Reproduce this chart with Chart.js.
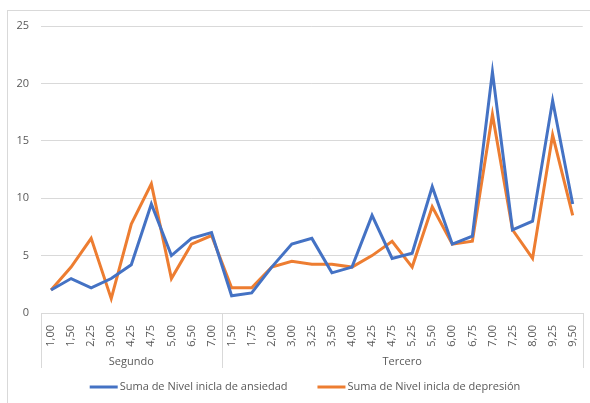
<!DOCTYPE html>
<html>
<head>
<meta charset="utf-8">
<script src="https://cdn.jsdelivr.net/npm/chart.js@4.4.1/dist/chart.umd.min.js"></script>
<style>
  html, body { margin: 0; padding: 0; background: #fff; }
  #wrap { position: relative; width: 590px; height: 403px; }
  #frame { position: absolute; left: 7px; top: 10px; width: 600px; height: 420px; border: 1px solid #d9d9d9; box-sizing: border-box; }
</style>
</head>
<body>
<div id="wrap">
  <div id="frame"></div>
  <canvas id="nivelChart" width="590" height="403"></canvas>
</div>
<script>
// Categories: two groups with their sub labels
var groupNames = ['Segundo', 'Tercero'];
var segundoLabels = ['1,00', '1,50', '2,25', '3,00', '4,25', '4,75', '5,00', '6,50', '7,00'];
var terceroLabels = ['1,50', '1,75', '2,00', '3,00', '3,25', '3,50', '4,00', '4,25', '4,75',
                     '5,25', '5,50', '6,00', '6,75', '7,00', '7,25', '8,00', '9,25', '9,50'];

// Series values
var ansiedad = [2, 3, 2.2, 3, 4.2, 9.5, 5, 6.5, 7,
                1.5, 1.75, 4, 6, 6.5, 3.5, 4, 8.5, 4.75, 5.2, 11, 6, 6.7, 21, 7.25, 8, 18.5, 9.5];
var depresion = [2, 4, 6.5, 1.25, 7.75, 11.25, 3, 6, 6.75,
                 2.2, 2.2, 4, 4.5, 4.25, 4.25, 4, 5, 6.25, 4, 9.25, 6, 6.25, 17.3, 7.25, 4.75, 15.5, 8.5];

var yTicks = [0, 5, 10, 15, 20, 25];
var seriesNames = ['Suma de Nivel inicla de ansiedad', 'Suma de Nivel inicla de depresión'];

var blue = '#4472C4';
var orange = '#ED7D31';
var textColor = '#595959';
var gridColor = '#d9d9d9';
var fontFamily = '"Open Sans", "Noto Sans", sans-serif';

var labels = segundoLabels.concat(terceroLabels);
var groupSizes = [segundoLabels.length, terceroLabels.length];

// Draws the group row under the x axis and the legend
var groupAxis = {
    id: 'groupAxis',
    afterDraw: function(chart) {
        var ctx = chart.ctx;
        var x = chart.scales.x;
        var area = chart.chartArea;
        var bottom = area.bottom + 55;
        ctx.save();
        ctx.strokeStyle = gridColor;
        ctx.lineWidth = 1;
        var start = 0;
        var edges = [area.left];
        groupSizes.forEach(function(n, g) {
            var end = start + n - 1;
            var right = end === labels.length - 1 ? area.right :
                (x.getPixelForValue(end) + x.getPixelForValue(end + 1)) / 2;
            edges.push(right);
            var left = edges[g];
            ctx.fillStyle = textColor;
            ctx.font = '11px ' + fontFamily;
            ctx.textAlign = 'center';
            ctx.textBaseline = 'middle';
            ctx.fillText(groupNames[g], (left + right) / 2, area.bottom + 49);
            start += n;
        });
        edges.forEach(function(e) {
            var px = Math.round(e) + 0.5;
            ctx.beginPath();
            ctx.moveTo(px, area.bottom);
            ctx.lineTo(px, bottom);
            ctx.stroke();
        });

        // legend
        ctx.font = '11px ' + fontFamily;
        ctx.textAlign = 'left';
        var colors = [blue, orange];
        var lineW = 28, gap = 2, spacing = 30;
        var widths = seriesNames.map(function(s) { return ctx.measureText(s).width; });
        var total = lineW * 2 + gap * 2 + widths[0] + widths[1] + spacing;
        var lx = 305 - total / 2;
        var ly = 387;
        seriesNames.forEach(function(s, i) {
            ctx.strokeStyle = colors[i];
            ctx.lineWidth = 3;
            ctx.beginPath();
            ctx.moveTo(lx, ly);
            ctx.lineTo(lx + lineW, ly);
            ctx.stroke();
            ctx.fillStyle = textColor;
            ctx.fillText(s, lx + lineW + gap, ly);
            lx += lineW + gap + widths[i] + spacing;
        });
        ctx.restore();
    }
};

var ctx = document.getElementById('nivelChart').getContext('2d');
var chart = new Chart(ctx, {
    type: 'line',
    data: {
        labels: labels,
        datasets: [
            { label: seriesNames[0], data: ansiedad, borderColor: blue, backgroundColor: blue },
            { label: seriesNames[1], data: depresion, borderColor: orange, backgroundColor: orange }
        ]
    },
    options: {
        responsive: false,
        animation: false,
        layout: { padding: { left: 7, right: 6, top: 26, bottom: 33 } },
        elements: {
            point: { radius: 0 },
            line: { borderWidth: 3, tension: 0, borderJoinStyle: 'miter' }
        },
        plugins: {
            legend: { display: false },
            tooltip: { enabled: false }
        },
        scales: {
            x: {
                offset: true,
                grid: { display: false },
                border: { display: true, color: gridColor },
                ticks: {
                    color: textColor,
                    font: { family: fontFamily, size: 11 },
                    minRotation: 90,
                    maxRotation: 90,
                    autoSkip: false,
                    padding: 4
                },
                afterFit: function(scale) { scale.height = 57; }
            },
            y: {
                min: 0,
                max: 25,
                afterBuildTicks: function(scale) {
                    scale.ticks = yTicks.map(function(v) { return { value: v }; });
                },
                grid: { color: gridColor, drawTicks: false },
                border: { display: false },
                ticks: {
                    color: textColor,
                    font: { family: fontFamily, size: 11 },
                    padding: 12
                },
                afterFit: function(scale) { scale.width = 34; }
            }
        }
    },
    plugins: [groupAxis]
});
</script>
</body>
</html>
